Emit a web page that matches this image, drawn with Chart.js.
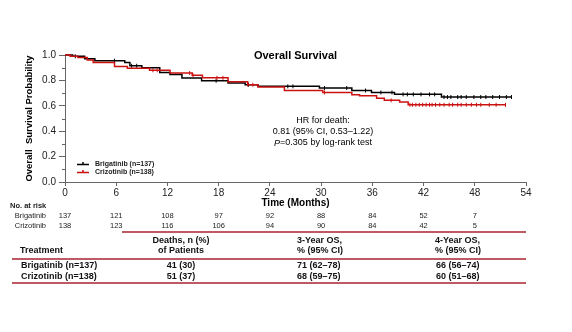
<!DOCTYPE html>
<html>
<head>
<meta charset="utf-8">
<script src="https://cdn.jsdelivr.net/npm/chart.js@4.4.1/dist/chart.umd.min.js"></script>
<style>
  body { margin: 0; background: #fff; }
  #wrap { position: relative; width: 572px; height: 332px; font-family: "Liberation Sans", Arial, sans-serif; }
  #chart { position: absolute; left: 0; top: 0; }
  .t { position: absolute; font-size: 9px; font-weight: bold; line-height: 11px; color: #111; white-space: nowrap; }
  .c { transform: translateX(-50%); }
  .rule { position: absolute; height: 2px; background: #bd5a63; }
</style>
</head>
<body>
<div id="wrap">
  <canvas id="chart" width="572" height="332"></canvas>
</div>
<script>
// Kaplan-Meier steps (months, survival probability)
const brigTimes = [0, 0.9, 2.3, 3.5, 7.0, 7.6, 9.0, 11.1, 12.3, 13.7, 16.0, 19.1, 21.1, 22.6, 29.8, 33.6, 35.9, 38.6, 44.1, 52.3];
const brigSurv  = [1.0, 0.99, 0.97, 0.955, 0.94, 0.915, 0.90, 0.862, 0.847, 0.819, 0.797, 0.78, 0.766, 0.753, 0.74, 0.72, 0.705, 0.69, 0.669, 0.669];
const crizTimes = [0, 0.6, 1.5, 2.6, 3.3, 5.8, 7.3, 9.9, 12.3, 14.9, 16.1, 19.1, 21.4, 22.6, 25.7, 30.2, 33.6, 34.5, 36.5, 37.4, 39.2, 40.2, 51.6];
const crizSurv  = [1.0, 0.99, 0.98, 0.96, 0.94, 0.91, 0.895, 0.88, 0.858, 0.84, 0.82, 0.79, 0.766, 0.748, 0.72, 0.705, 0.687, 0.679, 0.66, 0.643, 0.63, 0.608, 0.608];

// censored observations (months)
const brigCensor = [1.2, 5.8, 7.8, 8.4, 17.7, 21.5, 26.1, 26.7, 30.4, 33.0, 35.2, 37.0, 38.3, 39.6, 40.1, 40.8, 41.7, 42.7, 43.3, 44.4, 44.8, 45.2, 46.0, 46.4, 47.0, 47.9, 48.7, 49.3, 50.1, 50.9, 51.7, 52.3];
const crizCensor = [10.3, 10.8, 14.6, 15.0, 17.8, 18.5, 21.4, 22.0, 30.4, 38.2, 40.4, 40.7, 41.1, 41.5, 41.9, 42.3, 42.7, 43.0, 43.4, 43.9, 44.4, 45.0, 45.4, 46.0, 46.4, 47.0, 47.6, 48.2, 48.7, 49.7, 50.5, 51.6];

// number at risk
const riskMonths = [0, 6, 12, 18, 24, 30, 36, 42, 48];
const brigRisk = [137, 121, 108, 97, 92, 88, 84, 52, 7];
const crizRisk = [138, 123, 116, 106, 94, 90, 84, 42, 5];

// summary table
const treatments = ['Brigatinib (n=137)', 'Crizotinib (n=138)'];
const deaths = ['41 (30)', '51 (37)'];
const os3 = ['71 (62–78)', '68 (59–75)'];
const os4 = ['66 (56–74)', '60 (51–68)'];

const minorY = [0.1, 0.3, 0.5, 0.7, 0.9];
const BLACK = '#000000';
const RED = '#cc1111';
const FONT = '"Liberation Sans", Arial, sans-serif';

function curve(times, surv) {
  return times.map((t, i) => ({ x: t, y: surv[i] }));
}
function stepAt(times, surv, t) {
  let v = surv[0];
  for (let i = 0; i < times.length; i++) if (times[i] <= t) v = surv[i];
  return v;
}
function censorPoints(cens, times, surv) {
  return cens.map(t => ({ x: t, y: stepAt(times, surv, t) }));
}

const annotations = {
  id: 'annotations',
  afterDraw(chart) {
    const ctx = chart.ctx;
    const xs = chart.scales.x;
    const ys = chart.scales.y;
    const area = chart.chartArea;
    ctx.save();

    // minor y ticks
    ctx.strokeStyle = '#666';
    ctx.lineWidth = 1;
    minorY.forEach(v => {
      const py = Math.round(ys.getPixelForValue(v)) + 0.5;
      ctx.beginPath();
      ctx.moveTo(area.left - 3, py);
      ctx.lineTo(area.left, py);
      ctx.stroke();
    });

    // title
    ctx.fillStyle = '#000';
    ctx.textAlign = 'center';
    ctx.textBaseline = 'middle';
    ctx.font = 'bold 11px ' + FONT;
    ctx.fillText('Overall Survival', (area.left + area.right) / 2, 56);

    // hazard ratio note
    const hx = 323;
    ctx.font = '9px ' + FONT;
    ctx.fillText('HR for death:', hx, 121);
    ctx.fillText('0.81 (95% CI, 0.53–1.22)', hx, 132);
    const rest = '=0.305 by log-rank test';
    ctx.font = 'italic 9px ' + FONT;
    const wP = ctx.measureText('P').width;
    ctx.font = '9px ' + FONT;
    const wR = ctx.measureText(rest).width;
    const sx = hx - (wP + wR) / 2;
    ctx.textAlign = 'left';
    ctx.font = 'italic 9px ' + FONT;
    ctx.fillText('P', sx, 143);
    ctx.font = '9px ' + FONT;
    ctx.fillText(rest, sx + wP, 143);

    // legend
    const legend = [[BLACK, 'Brigatinib (n=137)', 164], [RED, 'Crizotinib (n=138)', 172]];
    ctx.font = 'bold 7px ' + FONT;
    legend.forEach(([col, txt, ly]) => {
      ctx.strokeStyle = col;
      ctx.lineWidth = 1.5;
      ctx.beginPath();
      ctx.moveTo(77, ly + 0.5);
      ctx.lineTo(89, ly + 0.5);
      ctx.moveTo(83, ly - 2);
      ctx.lineTo(83, ly + 0.5);
      ctx.stroke();
      ctx.fillStyle = '#222';
      ctx.fillText(txt, 95, ly + 0.5);
    });

    // number at risk
    ctx.fillStyle = '#222';
    ctx.font = 'bold 7.5px ' + FONT;
    ctx.textAlign = 'left';
    ctx.fillText('No. at risk', 10, 206);
    ctx.font = '7.5px ' + FONT;
    ctx.textAlign = 'right';
    ctx.fillText('Brigatinib', 46, 216);
    ctx.fillText('Crizotinib', 46, 226);
    ctx.textAlign = 'center';
    riskMonths.forEach((m, i) => {
      const px = xs.getPixelForValue(m);
      ctx.fillText(String(brigRisk[i]), px, 216);
      ctx.fillText(String(crizRisk[i]), px, 226);
    });
    ctx.restore();
  }
};

Chart.defaults.font.family = FONT;

new Chart(document.getElementById('chart'), {
  type: 'line',
  data: {
    datasets: [
      { label: 'Crizotinib (n=138)', data: curve(crizTimes, crizSurv), borderColor: RED, borderWidth: 1.5, stepped: 'before', pointRadius: 0, clip: 4, order: 0 },
      { label: 'Crizotinib censored', data: censorPoints(crizCensor, crizTimes, crizSurv), showLine: false, pointStyle: 'line', rotation: 90, pointRadius: 2, borderColor: RED, borderWidth: 1, clip: 4, order: 0 },
      { label: 'Brigatinib (n=137)', data: curve(brigTimes, brigSurv), borderColor: BLACK, borderWidth: 1.5, stepped: 'before', pointRadius: 0, clip: 4, order: 1 },
      { label: 'Brigatinib censored', data: censorPoints(brigCensor, brigTimes, brigSurv), showLine: false, pointStyle: 'line', rotation: 90, pointRadius: 2, borderColor: BLACK, borderWidth: 1, clip: 4, order: 1 }
    ]
  },
  options: {
    responsive: false,
    animation: false,
    layout: { padding: { left: 0, top: 55, right: 46, bottom: 122 } },
    plugins: { legend: { display: false }, tooltip: { enabled: false } },
    scales: {
      x: {
        type: 'linear', min: 0, max: 54,
        ticks: { stepSize: 6, font: { size: 10 }, color: '#222', padding: 1, maxRotation: 0, autoSkip: false },
        grid: { drawOnChartArea: false, tickLength: 4, color: '#666' },
        border: { color: '#666' },
        title: { display: true, text: 'Time (Months)', font: { size: 10, weight: 'bold' }, color: '#000', padding: { top: 0, bottom: 1 } },
        afterFit: s => { s.height = 28; }
      },
      y: {
        min: 0, max: 1,
        ticks: { stepSize: 0.2, font: { size: 10 }, color: '#222', padding: 3, callback: v => v.toFixed(1) },
        grid: { drawOnChartArea: false, tickLength: 6, color: '#666' },
        border: { color: '#666' },
        title: { display: true, text: 'Overall  Survival Probability', font: { size: 9.5, weight: 'bold' }, color: '#000', padding: { top: 24 } },
        afterFit: s => { s.width = 65; }
      }
    }
  },
  plugins: [annotations]
});

// summary table below the chart
const wrap = document.getElementById('wrap');
function addText(txt, left, top, center) {
  const d = document.createElement('div');
  d.className = center ? 't c' : 't';
  d.style.left = left + 'px';
  d.style.top = top + 'px';
  d.textContent = txt;
  wrap.appendChild(d);
}
function addRule(left, top, width) {
  const d = document.createElement('div');
  d.className = 'rule';
  d.style.left = left + 'px';
  d.style.top = top + 'px';
  d.style.width = width + 'px';
  wrap.appendChild(d);
}
addRule(122, 231, 404);
addText('Deaths, n (%)', 181, 235, true);
addText('of Patients', 181, 245, true);
addText('Treatment', 20, 245);
addText('3-Year OS,', 297, 235);
addText('% (95% CI)', 297, 245);
addText('4-Year OS,', 435, 235);
addText('% (95% CI)', 435, 245);
addRule(12, 258, 514);
treatments.forEach((name, i) => {
  const top = 260 + i * 11;
  addText(name, 21, top);
  addText(deaths[i], 181, top, true);
  addText(os3[i], 297, top);
  addText(os4[i], 436, top);
});
addRule(12, 282, 514);
</script>
</body>
</html>
